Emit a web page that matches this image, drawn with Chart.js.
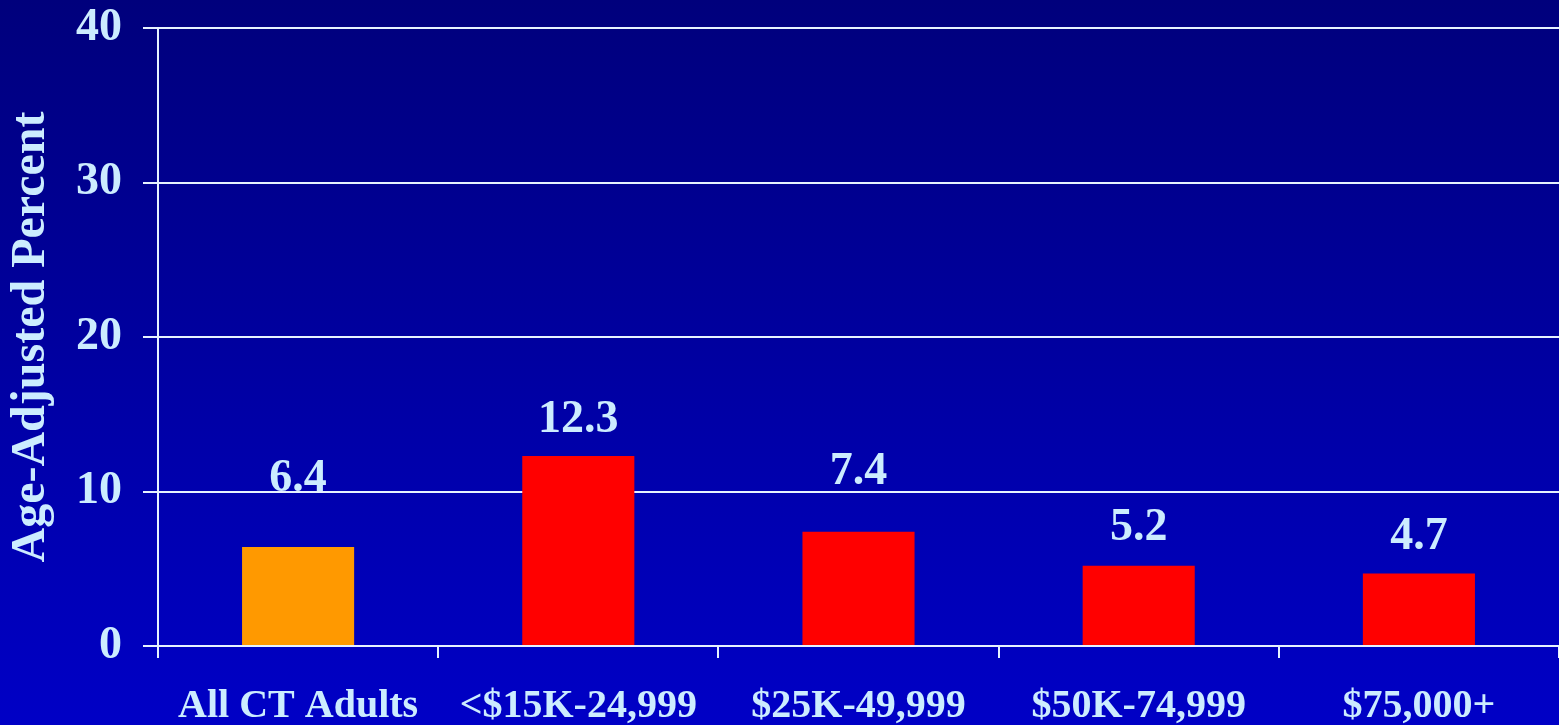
<!DOCTYPE html>
<html>
<head>
<meta charset="utf-8">
<script src="https://cdn.jsdelivr.net/npm/chart.js@4.4.0/dist/chart.umd.min.js"></script>
<style>
  html, body { margin: 0; padding: 0; width: 1559px; height: 725px; overflow: hidden;
    background: linear-gradient(to bottom, #00007C 0%, #0000C6 100%); }
  #wrap { position: absolute; left: 0; top: 0; width: 1559px; height: 725px; }
</style>
</head>
<body>
<div id="wrap"><canvas id="c" width="1559" height="725"></canvas></div>
<script>
const categories = ["All CT Adults", "<$15K-24,999", "$25K-49,999", "$50K-74,999", "$75,000+"];
const values = [6.4, 12.3, 7.4, 5.2, 4.7];
const valueLabels = ["6.4", "12.3", "7.4", "5.2", "4.7"];
const barColors = ["#FF9900", "#FF0000", "#FF0000", "#FF0000", "#FF0000"];
const yTicks = [0, 10, 20, 30, 40];
const yTitle = "Age-Adjusted Percent";

const TEXT = "#CCECFF";
const LINE = "#E6F2FF";
const FONT = "'Liberation Serif', 'Times New Roman', serif";

const valueLabelPlugin = {
  id: 'valueLabels',
  afterDatasetsDraw(chart, args, opts) {
    const ctx = chart.ctx;
    const meta = chart.getDatasetMeta(0);
    ctx.save();
    ctx.fillStyle = TEXT;
    ctx.font = "bold 46px " + FONT;
    ctx.textAlign = 'center';
    ctx.textBaseline = 'alphabetic';
    meta.data.forEach((bar, i) => {
      const off = opts.offsets[i];
      ctx.fillText(valueLabels[i], bar.x, bar.y - off);
    });
    ctx.restore();
  }
};

new Chart(document.getElementById('c'), {
  type: 'bar',
  data: {
    labels: categories,
    datasets: [{
      data: values,
      backgroundColor: barColors,
      borderWidth: 0,
      categoryPercentage: 1.0,
      barPercentage: 0.4
    }]
  },
  options: {
    responsive: false,
    animation: false,
    devicePixelRatio: 1,
    layout: { padding: { top: 0, right: 0, bottom: 0, left: 0 } },
    plugins: {
      legend: { display: false },
      tooltip: { enabled: false },
      valueLabels: { offsets: [56, 24, 48, 26, 24] }
    },
    scales: {
      x: {
        offset: true,
        grid: {
          offset: true,
          drawOnChartArea: false,
          drawTicks: true,
          tickLength: 12,
          color: LINE,
          lineWidth: 2
        },
        border: { display: true, color: LINE, width: 2 },
        ticks: {
          color: TEXT,
          font: { family: FONT, size: 40, weight: 'bold' },
          padding: 25,
          maxRotation: 0,
          autoSkip: false
        },
        afterFit(scale) { scale.height = 79; }
      },
      y: {
        min: 0,
        max: 40,
        afterBuildTicks(scale) { scale.ticks = yTicks.map(v => ({ value: v })); },
        grid: {
          drawOnChartArea: true,
          drawTicks: true,
          tickLength: 15,
          color: LINE,
          lineWidth: 2
        },
        border: { display: true, color: LINE, width: 2 },
        ticks: {
          color: TEXT,
          font: { family: FONT, size: 46, weight: 'bold' },
          padding: 21
        },
        title: {
          display: true,
          text: yTitle,
          color: TEXT,
          font: { family: FONT, size: 48, weight: 'bold' },
          padding: { top: 3, bottom: 0 }
        },
        afterFit(scale) { scale.width = 158; scale.paddingTop = 28; }
      }
    }
  },
  plugins: [valueLabelPlugin]
});
</script>
</body>
</html>
